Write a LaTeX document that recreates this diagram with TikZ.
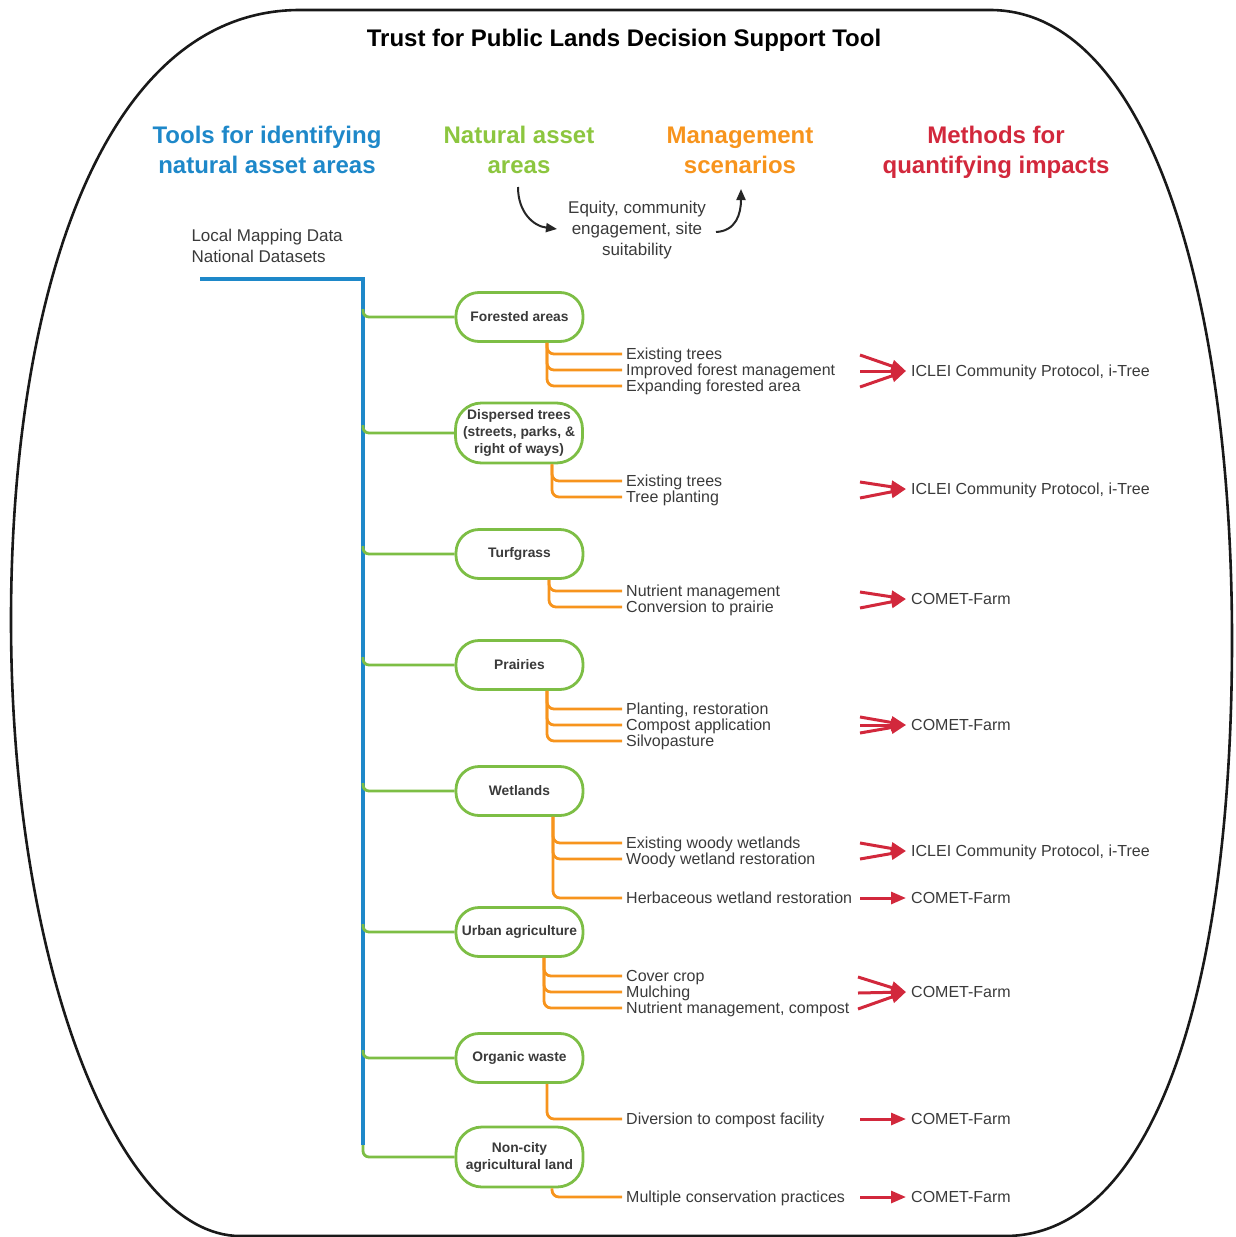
\documentclass[tikz,border=0pt]{standalone}
\usepackage{fontspec}
\setmainfont{Liberation Sans}
\usetikzlibrary{arrows.meta,calc}
\definecolor{cblue}{HTML}{1E88C9}
\definecolor{cgreen}{HTML}{7DBE45}
\definecolor{hgreen}{HTML}{8CC63F}
\definecolor{corange}{HTML}{F7941D}
\definecolor{cred}{HTML}{D2283C}
\definecolor{ctext}{HTML}{3A3A3A}
\newcommand\myTitle{\fontsize{24}{30}\selectfont\bfseries}
\newcommand\myHead{\fontsize{24}{30}\selectfont\bfseries}
\newcommand\myMid{\fontsize{17}{21}\selectfont}
\newcommand\mySmall{\fontsize{16}{16}\selectfont}
\newcommand\myPill{\fontsize{13.8}{17}\selectfont\bfseries}
\tikzset{
  outline/.style={draw=black!90, line width=2.6pt},
  pill/.style={draw=cgreen, line width=2.8pt, rounded corners=23pt, minimum width=127pt,
    minimum height=49pt, inner sep=0pt, font=\myPill, text=ctext, align=center, fill=white},
  tallpill/.style={pill, minimum height=60pt, rounded corners=26pt},
  mgmt/.style={anchor=west, inner sep=0pt, font=\mySmall, text=ctext, text height=11pt, text depth=0pt},
  meth/.style={anchor=west, inner sep=0pt, font=\mySmall, text=ctext, text height=11pt, text depth=0pt},
  bline/.style={draw=cblue, line width=3.2pt},
  gline/.style={draw=cgreen, line width=2.8pt, rounded corners=6pt},
  oline/.style={draw=corange, line width=2.8pt, rounded corners=7pt, shorten >=4pt},
  rarr/.style={draw=cred, line width=3pt, -{Triangle[length=15pt,width=12pt]}},
  karr/.style={draw=black!85, line width=2pt, -{Triangle[length=11pt,width=9pt]}},
  headtxt/.style={font=\myHead, align=center},
}
\begin{document}
\begin{tikzpicture}[x=1pt,y=-1pt]
\useasboundingbox (0,0) rectangle (1235,1237);
% outer frame
\draw[outline] (300,10) -- (990,10) .. controls (1150,10) and (1232,300) .. (1232,640)
  .. controls (1232,1000) and (1150,1236) .. (1005,1236) -- (240,1236)
  .. controls (120,1236) and (11,970) .. (11,620)
  .. controls (11,300) and (100,10) .. (300,10) -- cycle;
% title and headers
\node[font=\myTitle, text=black] (title) at (624,40) {Trust for Public Lands Decision Support Tool};
\node[headtxt, text=cblue] (h1) at (267,150) {Tools for identifying\\natural asset areas};
\node[headtxt, text=hgreen] (h2) at (519,150) {Natural asset\\areas};
\node[headtxt, text=corange] (h3) at (740,150) {Management\\scenarios};
\node[headtxt, text=cred] (h4) at (996,152) {Methods for\\quantifying impacts};
% equity
\node[font=\myMid, text=ctext, align=center] (eq) at (637,230) {Equity, community\\engagement, site\\suitability};
\coordinate (ea1) at (518,187);
\coordinate (ea2) at (557,229);
\coordinate (eb1) at (716,232);
\coordinate (eb2) at (741,189);
\draw[karr] (ea1) .. controls (518,212) and (533,226) .. (ea2);
\draw[karr] (eb1) .. controls (736,231) and (741,214) .. (eb2);
% data sources
\node[font=\myMid, text=ctext, align=left, anchor=west] (data) at (188,245.5) {Local Mapping Data\\National Datasets};
% blue spine
\coordinate (bstart) at (200,279);
\coordinate (spine) at (363,279);
\coordinate (spineend) at (363,1145);
\draw[bline] (bstart) -| (spineend);
% natural asset pills
\node[pill] (fa) at (519.5,317) {Forested areas};
\node[tallpill] (dt) at (519,433) {Dispersed trees\\(streets, parks, \&\\right of ways)};
\node[pill] (tg) at (519.5,554) {Turfgrass};
\node[pill] (pr) at (519.5,665) {Prairies};
\node[pill] (wl) at (519.5,791) {Wetlands};
\node[pill] (ua) at (519.5,932) {Urban agriculture};
\node[pill] (ow) at (519.5,1058) {Organic waste};
\node[tallpill] (nc) at (519.5,1157) {Non-city\\agricultural land};
% green branches
\foreach \n in {fa,dt,tg,pr,wl,ua,ow}{
  \draw[gline] ($(\n.west -| spine)+(0,-8)$) |- (\n.west);
}
\draw[gline] (spineend) |- (nc.west);
% management scenarios
\node[mgmt] (f1) at (626,354) {Existing trees};
\node[mgmt] (f2) at (626,370) {Improved forest management};
\node[mgmt] (f3) at (626,386) {Expanding forested area};
\node[mgmt] (d1) at (626,481) {Existing trees};
\node[mgmt] (d2) at (626,497) {Tree planting};
\node[mgmt] (t1) at (626,591) {Nutrient management};
\node[mgmt] (t2) at (626,607) {Conversion to prairie};
\node[mgmt] (p1) at (626,709) {Planting, restoration};
\node[mgmt] (p2) at (626,725) {Compost application};
\node[mgmt] (p3) at (626,741) {Silvopasture};
\node[mgmt] (w1) at (626,843) {Existing woody wetlands};
\node[mgmt] (w2) at (626,859) {Woody wetland restoration};
\node[mgmt] (w3) at (626,898) {Herbaceous wetland restoration};
\node[mgmt] (u1) at (626,976) {Cover crop};
\node[mgmt] (u2) at (626,992) {Mulching};
\node[mgmt] (u3) at (626,1008) {Nutrient management, compost};
\node[mgmt] (o1) at (626,1119) {Diversion to compost facility};
\node[mgmt] (n1) at (626,1197) {Multiple conservation practices};
% orange branches
\foreach \t in {f1,f2,f3}{\draw[oline] ($(fa.south)+(27.5,0)$) |- (\t.west);}
\foreach \t in {d1,d2}{\draw[oline] ($(dt.south)+(33,0)$) |- (\t.west);}
\foreach \t in {t1,t2}{\draw[oline] ($(tg.south)+(29.5,0)$) |- (\t.west);}
\foreach \t in {p1,p2,p3}{\draw[oline] ($(pr.south)+(27.5,0)$) |- (\t.west);}
\foreach \t in {w1,w2,w3}{\draw[oline] ($(wl.south)+(33.5,0)$) |- (\t.west);}
\foreach \t in {u1,u2,u3}{\draw[oline] ($(ua.south)+(24.5,0)$) |- (\t.west);}
\draw[oline] ($(ow.south)+(27.5,0)$) |- (o1.west);
\draw[oline] ($(nc.south)+(32.5,0)$) |- (n1.west);
% methods
\node[meth] (m1) at (911,371) {ICLEI Community Protocol, i-Tree};
\node[meth] (m2) at (911,489) {ICLEI Community Protocol, i-Tree};
\node[meth] (m3) at (911,599) {COMET-Farm};
\node[meth] (m4) at (911,725) {COMET-Farm};
\node[meth] (m5) at (911,851) {ICLEI Community Protocol, i-Tree};
\node[meth] (m6) at (911,898) {COMET-Farm};
\node[meth] (m7) at (911,992) {COMET-Farm};
\node[meth] (m8) at (911,1119) {COMET-Farm};
\node[meth] (m9) at (911,1197) {COMET-Farm};
% red arrows
\coordinate (tx) at (860,0);
\foreach \t in {f1,f2,f3}{\draw[rarr] ($(\t.west -| tx)+(0,1)$) -- ([xshift=-5pt]m1.west);}
\foreach \t in {d1,d2}{\draw[rarr] ($(\t.west -| tx)+(0,1)$) -- ([xshift=-5pt]m2.west);}
\foreach \t in {t1,t2}{\draw[rarr] ($(\t.west -| tx)+(0,1)$) -- ([xshift=-5pt]m3.west);}
\foreach \d in {-8,0,8}{\draw[rarr] ($(m4.west -| tx)+(0,\d)$) -- ([xshift=-5pt]m4.west);}
\foreach \t in {w1,w2}{\draw[rarr] (\t.west -| tx) -- ([xshift=-5pt]m5.west);}
\draw[rarr] (w3.west -| tx) -- ([xshift=-5pt]m6.west);
\foreach \t in {u1,u2,u3}{\draw[rarr] ($(\t.west -| tx)+(-2,1)$) -- ([xshift=-5pt]m7.west);}
\draw[rarr] (o1.west -| tx) -- ([xshift=-5pt]m8.west);
\draw[rarr] (n1.west -| tx) -- ([xshift=-5pt]m9.west);
\end{tikzpicture}
\end{document}
